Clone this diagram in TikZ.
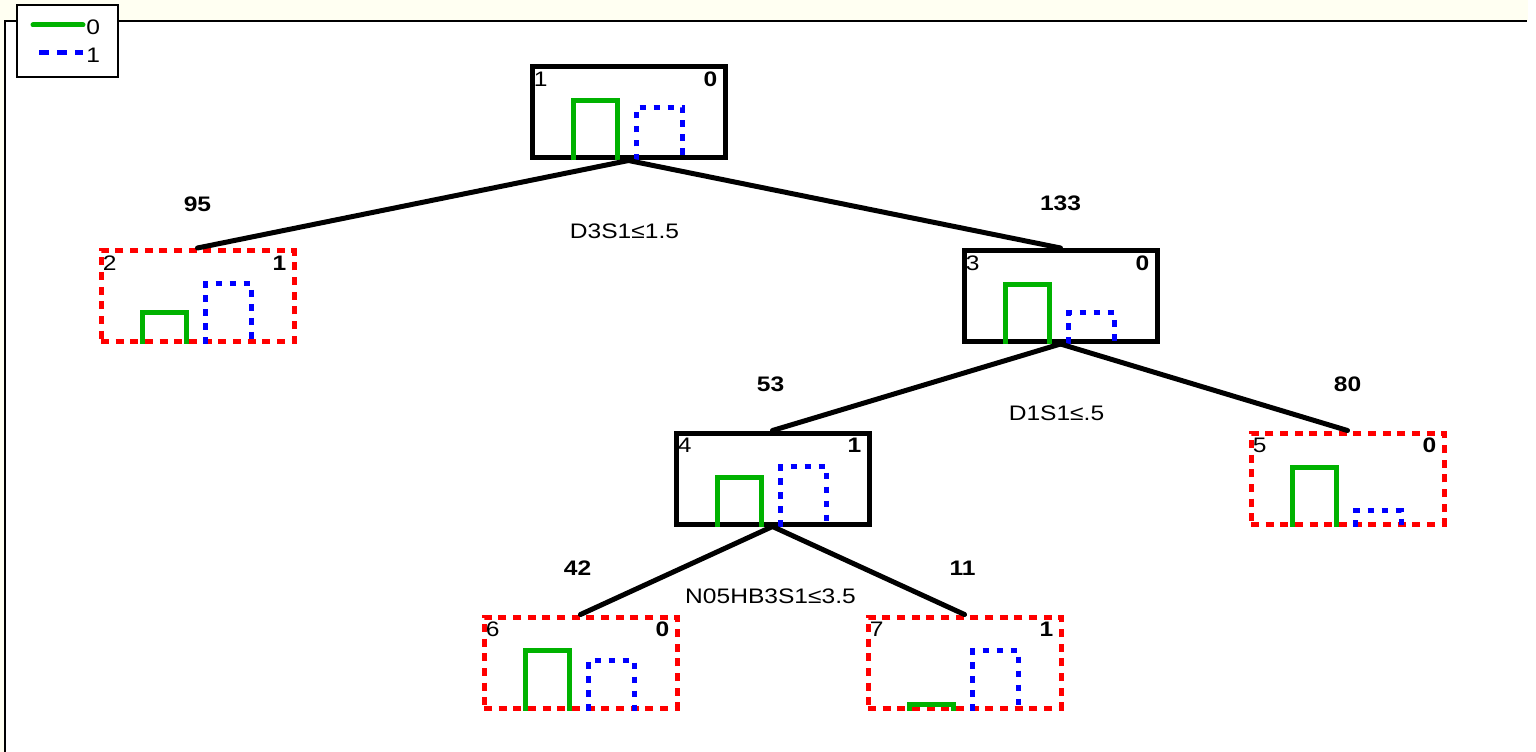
\documentclass[tikz,border=0pt]{standalone}
\usepackage{fontspec}
\usepackage{tikz}
\usetikzlibrary{calc}
\newfontfamily\treefont[FakeStretch=1.17]{Liberation Sans}
\definecolor{histgreen}{RGB}{0,178,0}
\definecolor{histblue}{RGB}{0,0,255}
\definecolor{leafred}{RGB}{255,0,0}
\definecolor{cream}{RGB}{255,255,242}
\tikzset{
  txt/.style={inner sep=0pt, font=\treefont\fontsize{15.75}{18}\selectfont},
  count/.style={txt, font=\treefont\bfseries\fontsize{15.75}{18}\selectfont},
  splitbox/.style={draw=black, line width=3.75pt, minimum width=144.75pt, minimum height=68.25pt, inner sep=0pt},
  leafbox/.style={draw=leafred, line width=3.75pt, dash pattern=on 6pt off 5pt, minimum width=144.75pt, minimum height=68.25pt, inner sep=0pt},
  edge/.style={line width=3.75pt, line cap=round},
  zerobar/.style={draw=histgreen, line width=3.75pt},
  onebar/.style={draw=histblue, line width=3.75pt, dash pattern=on 5pt off 5.5pt},
}
% bars and labels inside a node: (name)(number:class)(height0:height1)
\def\contents(#1)(#2:#3)(#4:#5){%
  \draw[zerobar] ($(#1.south)+(-55,0)$) -- ++(0,-#4) -- ++(44,0) -- ++(0,#4);
  \draw[onebar] ($(#1.south)+(8,0)$) -- ++(0,-#5) -- ++(46,0) -- ++(0,#5);
  \node[txt, anchor=west] (#1num) at ($(#1.north west)+(4,15)$) {#2};
  \node[count, anchor=east] (#1cls) at ($(#1.north east)+(-10,15)$) {#3};}

\begin{document}
\begin{tikzpicture}[x=0.75pt, y=-0.75pt]
		%%%%% START %%%%%
		\useasboundingbox (0,0) rectangle (1536,752);
		\fill[white] (0,0) rectangle (1536,752);
		\fill[cream] (0,0) rectangle (1528,21);
		\fill[cream] (0,0) rectangle (5,752);
		\draw[line width=1.5pt] (5,752) -- (5,21) -- (1527,21);
		
		% legend
		\node[draw, fill=white, line width=1.5pt, minimum width=75.75pt, minimum height=54pt, inner sep=0pt] (key) at (67.5,41) {};
		\coordinate (keyzeroa) at (33,25);
		\coordinate (keyzerob) at (83,25);
		\coordinate (keyonea) at (39,53);
		\coordinate (keyoneb) at (83,53);
		\draw[zerobar, line cap=round] (keyzeroa) -- (keyzerob);
		\draw[onebar, dash pattern=on 7.5pt off 6pt] (keyonea) -- (keyoneb);
		\node[txt, anchor=west] (keyzero) at ($(keyzerob)+(3,2)$) {0};
		\node[txt, anchor=west] (keyone) at ($(keyoneb)+(3,2)$) {1};
		
		% nodes
		\node[splitbox] (n1) at (628.5,112.5) {};
		\node[leafbox] (n2) at (197.5,296) {};
		\node[splitbox] (n3) at (1060.5,296) {};
		\node[splitbox] (n4) at (772.5,478.5) {};
		\node[leafbox] (n5) at (1347.5,478.5) {};
		\node[leafbox] (n6) at (580.5,662.5) {};
		\node[leafbox] (n7) at (964.5,662.5) {};
		
		\contents(n1)(1:0)(60:53)
		\contents(n2)(2:1)(31:60)
		\contents(n3)(3:0)(59:31)
		\contents(n4)(4:1)(49:60)
		\contents(n5)(5:0)(59:16)
		\contents(n6)(6:0)(60:50)
		\contents(n7)(7:1)(6:60)
		
		% branches
		\draw[edge] (n1.south) -- (n2.north);
		\draw[edge] (n1.south) -- (n3.north);
		\draw[edge] (n3.south) -- (n4.north);
		\draw[edge] (n3.south) -- (n5.north);
		\draw[edge] (n4.south) -- (n6.north);
		\draw[edge] (n4.south) -- (n7.north);
		
		% sizes
		\node[count] (w2) at ($(n2.north)+(0,-44)$) {95};
		\node[count] (w3) at ($(n3.north)+(0,-45)$) {133};
		\node[count] (w4) at ($(n4.north)+(-2,-46)$) {53};
		\node[count] (w5) at ($(n5.north)+(0,-46)$) {80};
		\node[count] (w6) at ($(n6.north)+(-3,-46)$) {42};
		\node[count] (w7) at ($(n7.north)+(-2,-46)$) {11};
		
		% splits
		\node[txt] (s1) at ($(n1.south)+(-4,71)$) {D3S1≤1.5};
		\node[txt] (s3) at ($(n3.south)+(-4,69)$) {D1S1≤.5};
		\node[txt] (s4) at ($(n4.south)+(-2,70)$) {N05HB3S1≤3.5};
		%%%%% END %%%%%
\end{tikzpicture}
\end{document}
